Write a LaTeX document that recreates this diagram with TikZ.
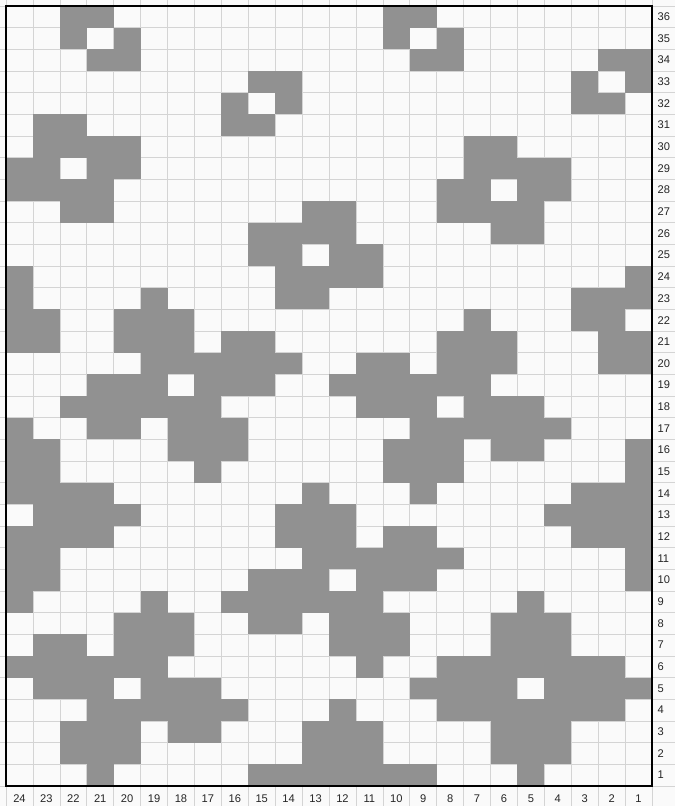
\documentclass[tikz,border=0pt]{standalone}
\usepackage{fontspec}
\setmainfont{Liberation Sans}
\usepackage{xcolor}
\definecolor{colStitch}{RGB}{145,145,145}
\definecolor{colGrid}{RGB}{212,212,212}
\definecolor{colPaper}{RGB}{250,250,250}

\begin{document}
\begin{tikzpicture}[
  x=0.8075cm, y=0.65cm,
  stitch/.style={fill=colStitch, draw=none},
  gridline/.style={draw=colGrid, line width=0.5pt},
  frame/.style={draw=black, line width=1.5pt},
  numlabel/.style={font=\fontsize{9.5}{11}\selectfont, inner sep=0pt, text=black!85},
]

% ─── PAPER ────────────────────────────────────────────────────────────────────
\useasboundingbox (-0.223,-0.923) rectangle (24.854,36.277);
\fill[colPaper] (-0.223,-0.923) rectangle (24.854,36.277);

% ─── GRID ─────────────────────────────────────────────────────────────────────
\foreach \i in {0,...,24} \draw[gridline] (\i,-0.923) -- (\i,36.277);
\foreach \j in {0,...,36} \draw[gridline] (-0.223,\j) -- (24.854,\j);

% ─── STITCHES (row / columns counted from the right) ──────────────────────────
\foreach \r/\cols in {
  36/{22,21,10,9},
  35/{22,20,10,8},
  34/{21,20,9,8,2,1},
  33/{15,14,3,1},
  32/{16,14,3,2},
  31/{23,22,16,15},
  30/{23,22,21,20,7,6},
  29/{24,23,21,20,7,6,5,4},
  28/{24,23,22,21,8,7,5,4},
  27/{22,21,13,12,8,7,6,5},
  26/{15,14,13,12,6,5},
  25/{15,14,12,11},
  24/{24,14,13,12,11,1},
  23/{24,19,14,13,3,2,1},
  22/{24,23,20,19,18,7,3,2},
  21/{24,23,20,19,18,16,15,8,7,6,2,1},
  20/{19,18,17,16,15,14,11,10,8,7,6,2,1},
  19/{21,20,19,17,16,15,12,11,10,9,8,7},
  18/{22,21,20,19,18,17,11,10,9,7,6,5},
  17/{24,21,20,18,17,16,9,8,7,6,5,4},
  16/{24,23,18,17,16,10,9,8,6,5,1},
  15/{24,23,17,10,9,8,1},
  14/{24,23,22,21,13,9,3,2,1},
  13/{23,22,21,20,14,13,12,4,3,2,1},
  12/{24,23,22,21,14,13,12,10,9,3,2,1},
  11/{24,23,13,12,11,10,9,8,1},
  10/{24,23,15,14,13,11,10,9,1},
  9/{24,19,16,15,14,13,12,11,5},
  8/{20,19,18,15,14,12,11,10,6,5,4},
  7/{23,22,20,19,18,12,11,10,6,5,4},
  6/{24,23,22,21,20,19,11,8,7,6,5,4,3,2},
  5/{23,22,21,19,18,17,9,8,7,6,4,3,2,1},
  4/{21,20,19,18,17,16,12,8,7,6,5,4,3,2},
  3/{22,21,20,18,17,13,12,11,6,5,4},
  2/{22,21,20,13,12,11,6,5,4},
  1/{21,15,14,13,12,11,10,9,5}%
} {
  \foreach \c in \cols
    \fill[stitch] (24-\c,\r-1) rectangle ++(1,1);
}

% ─── FRAME ────────────────────────────────────────────────────────────────────
\draw[frame] (0,0) rectangle (24,36);

% ─── NUMBERS ──────────────────────────────────────────────────────────────────
\foreach \r in {1,...,36}
  \node[numlabel, anchor=west] (row\r) at (24.2,\r-0.5) {\r};
\foreach \c in {1,...,24}
  \node[numlabel] (col\c) at (24.5-\c,-0.6) {\c};

\end{tikzpicture}
\end{document}
